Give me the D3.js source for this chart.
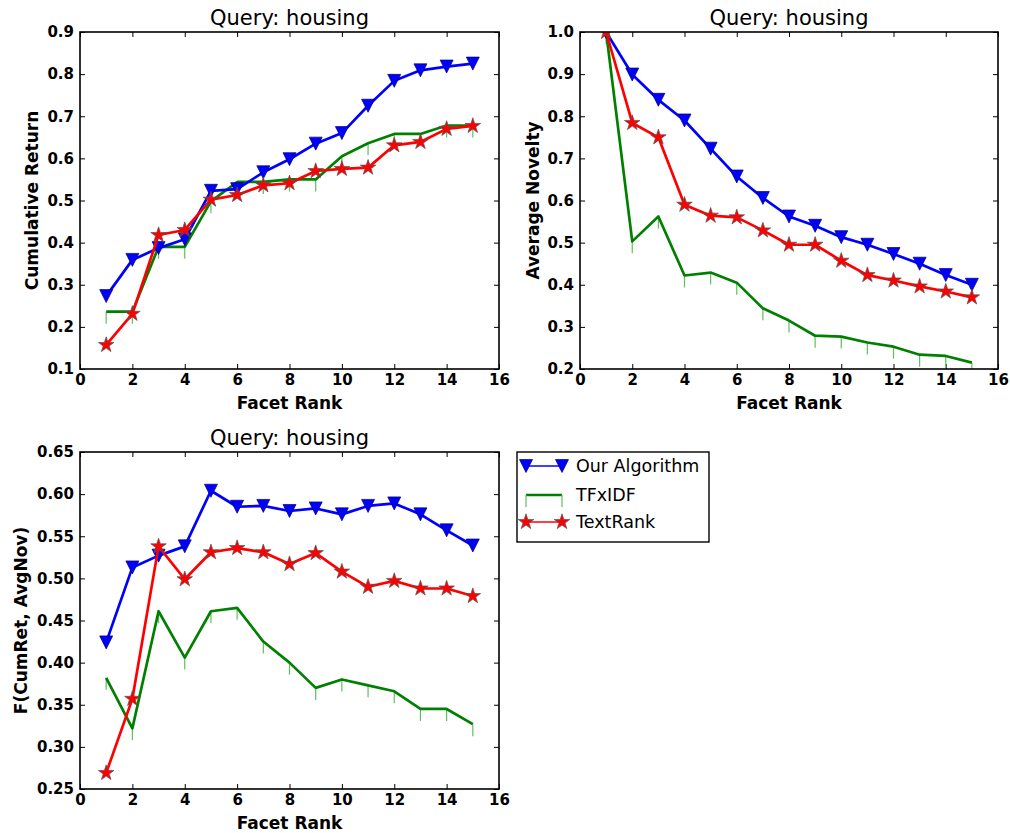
<!DOCTYPE html>
<html>
<head>
<meta charset="utf-8">
<script src="https://cdn.jsdelivr.net/npm/d3@7"></script>
<style>
  body { margin: 0; background: white; }
  text { font-family: 'DejaVu Sans', sans-serif; }
</style>
</head>
<body>
<div id="chart"></div>
<script>
// facet rank on the x axis
const ranks = [1, 2, 3, 4, 5, 6, 7, 8, 9, 10, 11, 12, 13, 14, 15];

// cumulative return
const cumRetOurs     = [0.273, 0.359, 0.387, 0.408, 0.523, 0.527, 0.567, 0.598, 0.635, 0.660, 0.725, 0.784, 0.809, 0.818, 0.825];
const cumRetTfidf    = [0.236, 0.236, 0.390, 0.390, 0.498, 0.544, 0.544, 0.550, 0.550, 0.605, 0.636, 0.658, 0.658, 0.678, 0.678];
const cumRetTextRank = [0.157, 0.231, 0.418, 0.430, 0.502, 0.513, 0.536, 0.541, 0.570, 0.575, 0.578, 0.631, 0.639, 0.670, 0.677];

// average novelty
const novOurs     = [1.000, 0.899, 0.839, 0.790, 0.723, 0.657, 0.606, 0.562, 0.540, 0.513, 0.495, 0.473, 0.450, 0.423, 0.400];
const novTfidf    = [1.000, 0.503, 0.562, 0.422, 0.429, 0.405, 0.344, 0.315, 0.279, 0.277, 0.263, 0.253, 0.234, 0.231, 0.215];
const novTextRank = [1.000, 0.784, 0.750, 0.590, 0.564, 0.560, 0.529, 0.495, 0.495, 0.457, 0.423, 0.410, 0.396, 0.384, 0.370];

// F(CumRet, AvgNov)
const fOurs     = [0.424, 0.513, 0.527, 0.538, 0.604, 0.585, 0.586, 0.580, 0.583, 0.576, 0.586, 0.589, 0.576, 0.557, 0.539];
const fTfidf    = [0.382, 0.322, 0.461, 0.406, 0.461, 0.465, 0.425, 0.400, 0.370, 0.380, 0.373, 0.366, 0.345, 0.345, 0.327];
const fTextRank = [0.269, 0.357, 0.538, 0.499, 0.531, 0.536, 0.531, 0.517, 0.530, 0.508, 0.490, 0.497, 0.488, 0.488, 0.479];

// tick values
const xTicks = [0, 2, 4, 6, 8, 10, 12, 14, 16];
const cumRetTicks = [0.1, 0.2, 0.3, 0.4, 0.5, 0.6, 0.7, 0.8, 0.9];
const novTicks = [0.2, 0.3, 0.4, 0.5, 0.6, 0.7, 0.8, 0.9, 1.0];
const fTicks = [0.25, 0.30, 0.35, 0.40, 0.45, 0.50, 0.55, 0.60, 0.65];

const seriesNames = ['Our Algorithm', 'TFxIDF', 'TextRank'];
const seriesColors = ['#0000ff', '#008000', '#ff0000'];
const seriesMarkers = ['tri', 'tick', 'star'];

const width = 1010, height = 833;

let svg = d3.select('#chart')
    .append('svg')
    .attr('width', width)
    .attr('height', height)
    .style('background', 'white');

// marker shapes
const triPath = 'M-6.5,-6.5L6.5,-6.5L0,6.5Z';
const starPath = d3.symbol(d3.symbolStar).size(75)();

function drawPanel(box, yTicks, fmt, yLabel, yLabelX, series, clipId) {
    let xScale = d3.scaleLinear().domain([0, 16]).range([box.left, box.right]);
    let yScale = d3.scaleLinear()
        .domain([yTicks[0], yTicks[yTicks.length - 1]])
        .range([box.bottom, box.top]);

    let g = svg.append('g');

    // clip to the axes area
    g.append('clipPath').attr('id', clipId)
        .append('rect')
        .attr('x', box.left).attr('y', box.top)
        .attr('width', box.right - box.left).attr('height', box.bottom - box.top);

    // axes (ticks point inward on all sides)
    let tl = -5;
    g.append('g').attr('transform', `translate(0,${box.bottom})`)
        .call(d3.axisBottom(xScale).tickValues(xTicks).tickSizeInner(tl).tickSizeOuter(0).tickPadding(5).tickFormat(d3.format('d')));
    g.append('g').attr('transform', `translate(0,${box.top})`)
        .call(d3.axisTop(xScale).tickValues(xTicks).tickSizeInner(tl).tickSizeOuter(0).tickFormat(''));
    g.append('g').attr('transform', `translate(${box.left},0)`)
        .call(d3.axisLeft(yScale).tickValues(yTicks).tickSizeInner(tl).tickSizeOuter(0).tickPadding(6).tickFormat(d3.format(fmt)));
    g.append('g').attr('transform', `translate(${box.right},0)`)
        .call(d3.axisRight(yScale).tickValues(yTicks).tickSizeInner(tl).tickSizeOuter(0).tickFormat(''));

    g.selectAll('.domain').remove();
    g.selectAll('.tick line').attr('stroke', '#000').attr('stroke-width', 1);
    g.selectAll('.tick text')
        .style('font-size', '15px')
        .style('font-weight', 'bold')
        .attr('fill', '#000');

    let plot = g.append('g').attr('clip-path', `url(#${clipId})`);

    let line = d3.line()
        .x((d, i) => xScale(ranks[i]))
        .y(d => yScale(d));

    // green first, then blue, red on top
    [1, 0, 2].forEach(k => {
        let vals = series[k];
        if (seriesMarkers[k] == 'tick') {
            plot.selectAll(null)
                .data(vals)
                .enter()
                .append('line')
                .attr('x1', (d, i) => xScale(ranks[i]))
                .attr('x2', (d, i) => xScale(ranks[i]))
                .attr('y1', d => yScale(d))
                .attr('y2', d => yScale(d) + 12)
                .attr('stroke', '#5fbf5f')
                .attr('stroke-width', 1.2);
        }
        plot.append('path')
            .datum(vals)
            .attr('d', line)
            .attr('fill', 'none')
            .attr('stroke', seriesColors[k])
            .attr('stroke-width', 2.7)
            .attr('stroke-linejoin', 'round');
        if (seriesMarkers[k] != 'tick') {
            plot.selectAll(null)
                .data(vals)
                .enter()
                .append('path')
                .attr('d', seriesMarkers[k] == 'tri' ? triPath : starPath)
                .attr('transform', (d, i) => `translate(${xScale(ranks[i])},${yScale(d)})`)
                .attr('fill', seriesColors[k])
                .attr('stroke', seriesMarkers[k] == 'tri' ? '#00006a' : '#555')
                .attr('stroke-width', 0.7);
        }
    });

    // frame
    g.append('rect')
        .attr('x', box.left).attr('y', box.top)
        .attr('width', box.right - box.left).attr('height', box.bottom - box.top)
        .attr('fill', 'none')
        .attr('stroke', '#000')
        .attr('stroke-width', 1.6);

    // title
    g.append('text')
        .attr('x', (box.left + box.right) / 2)
        .attr('y', box.top - 7)
        .attr('text-anchor', 'middle')
        .style('font-size', '21px')
        .text('Query: housing');

    // x label
    g.append('text')
        .attr('x', (box.left + box.right) / 2)
        .attr('y', box.bottom + 40)
        .attr('text-anchor', 'middle')
        .style('font-size', '17px')
        .style('font-weight', 'bold')
        .text('Facet Rank');

    // y label
    g.append('text')
        .attr('transform', `translate(${yLabelX},${(box.top + box.bottom) / 2}) rotate(-90)`)
        .attr('text-anchor', 'middle')
        .attr('dy', '0.35em')
        .style('font-size', '17px')
        .style('font-weight', 'bold')
        .text(yLabel);
}

drawPanel({left: 80, right: 499, top: 32, bottom: 369}, cumRetTicks, '.1f',
    'Cumulative Return', 32, [cumRetOurs, cumRetTfidf, cumRetTextRank], 'clip1');
drawPanel({left: 580, right: 998, top: 32, bottom: 369}, novTicks, '.1f',
    'Average Novelty', 533, [novOurs, novTfidf, novTextRank], 'clip2');
drawPanel({left: 80, right: 499, top: 452, bottom: 789}, fTicks, '.2f',
    'F(CumRet, AvgNov)', 21, [fOurs, fTfidf, fTextRank], 'clip3');

// legend
let legend = svg.append('g').attr('transform', 'translate(517,452)');
legend.append('rect')
    .attr('width', 192).attr('height', 90)
    .attr('fill', 'white')
    .attr('stroke', '#000')
    .attr('stroke-width', 1.4);

let legendItem = legend.selectAll('.legend-item')
    .data(seriesNames)
    .enter()
    .append('g')
    .attr('class', 'legend-item')
    .attr('transform', (d, i) => `translate(0,${[14, 43, 70][i]})`);

legendItem.append('line')
    .attr('x1', 9).attr('x2', 45)
    .attr('stroke', (d, i) => seriesColors[i])
    .attr('stroke-width', (d, i) => i == 1 ? 2.4 : 1.6);

legendItem.each(function(d, i) {
    let item = d3.select(this);
    [9, 45].forEach(x => {
        if (seriesMarkers[i] == 'tick') {
            item.append('line')
                .attr('x1', x).attr('x2', x)
                .attr('y1', 0).attr('y2', 12)
                .attr('stroke', '#5fbf5f')
                .attr('stroke-width', 1.2);
        } else {
            item.append('path')
                .attr('d', seriesMarkers[i] == 'tri' ? triPath : starPath)
                .attr('transform', `translate(${x},0)`)
                .attr('fill', seriesColors[i])
                .attr('stroke', seriesMarkers[i] == 'tri' ? '#00006a' : '#555')
                .attr('stroke-width', 0.7);
        }
    });
});

legendItem.append('text')
    .attr('x', 59)
    .attr('dy', '0.35em')
    .style('font-size', '17.5px')
    .text(d => d);
</script>
</body>
</html>
